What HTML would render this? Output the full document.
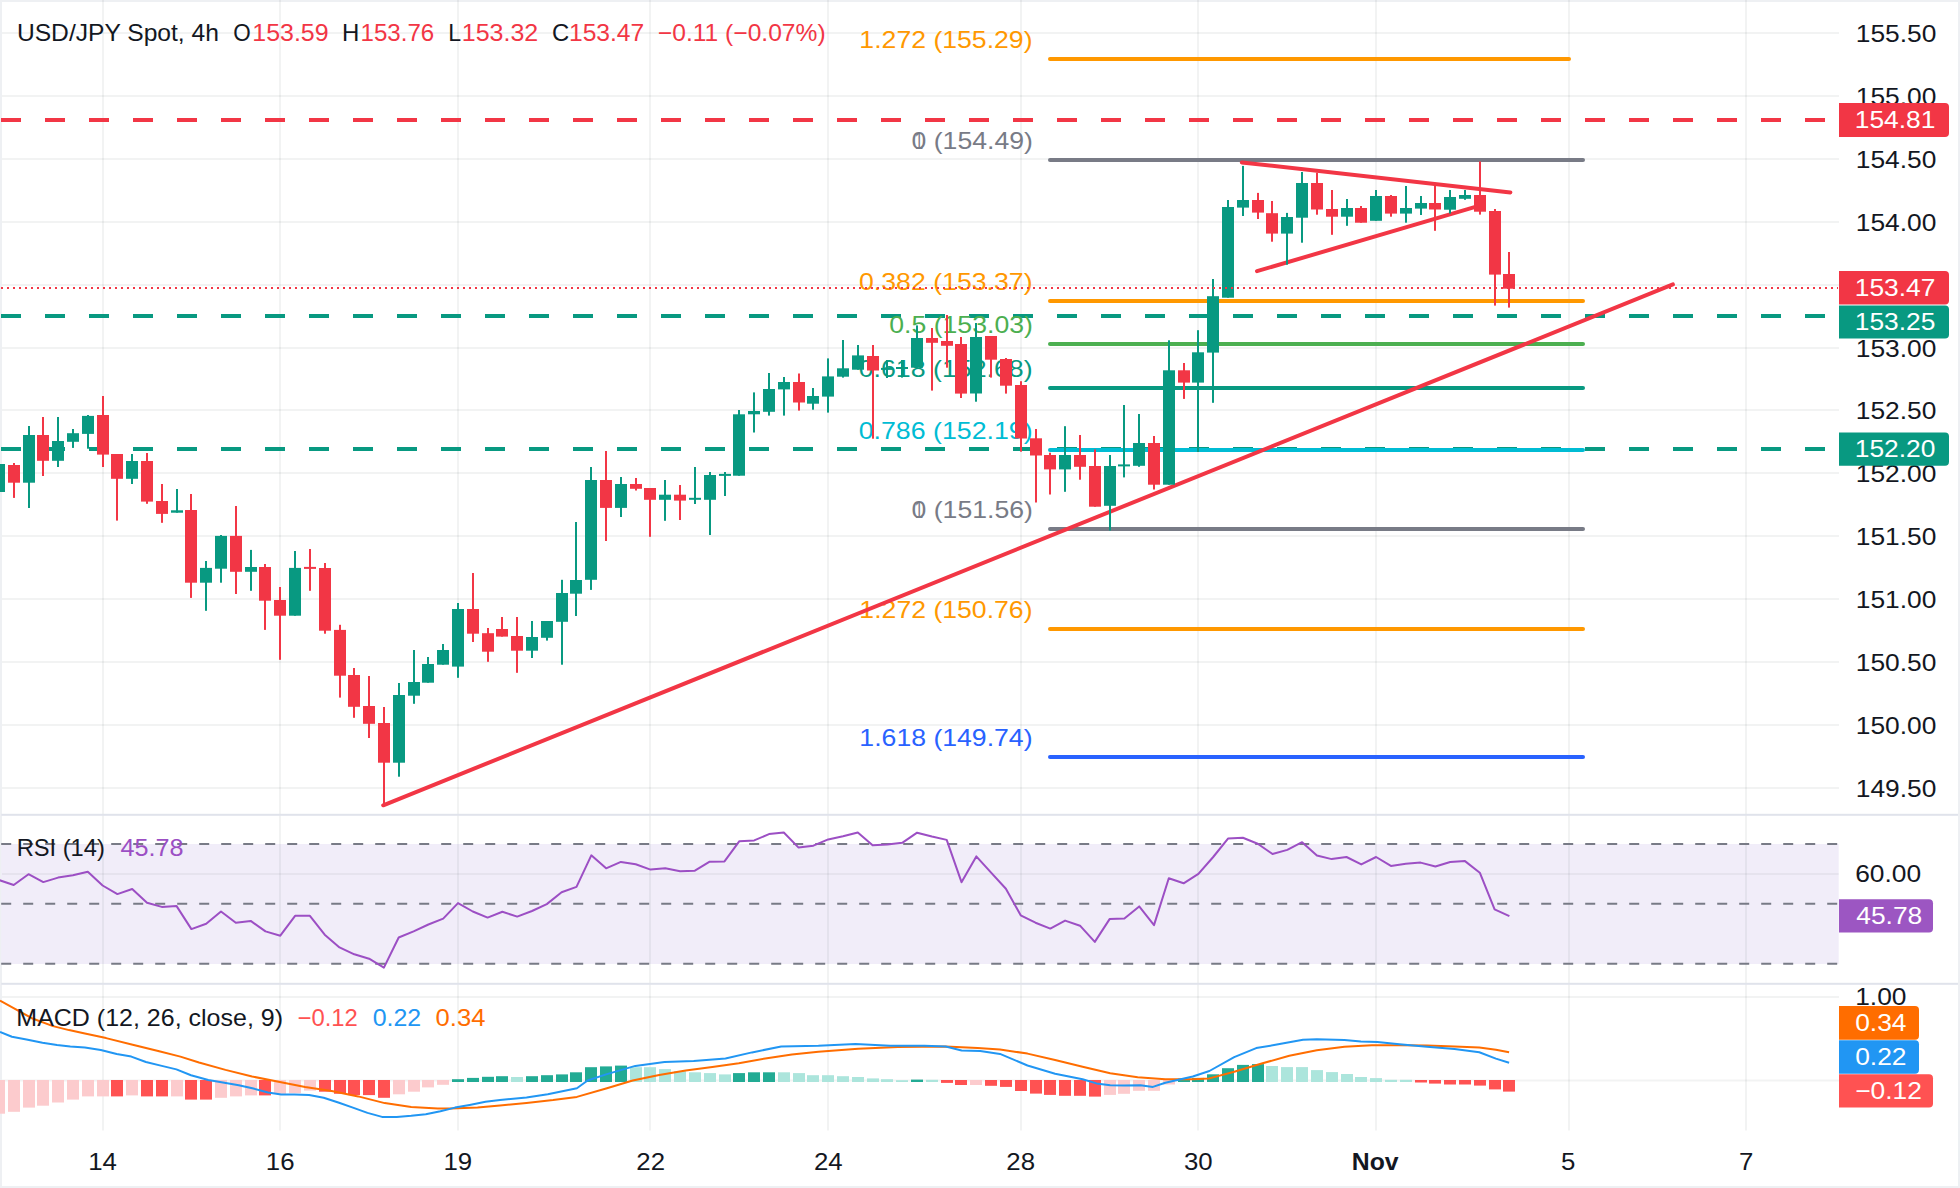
<!DOCTYPE html>
<html><head><meta charset="utf-8"><title>USD/JPY chart</title>
<style>html,body{margin:0;padding:0;background:#fff;overflow:hidden;}svg{display:block;font-family:"Liberation Sans",sans-serif;}</style></head>
<body>
<svg width="1960" height="1188" viewBox="0 0 1960 1188" font-family='"Liberation Sans", sans-serif'>
<rect x="0" y="0" width="1960" height="1188" fill="#ffffff"/>
<rect x="0" y="0" width="1960" height="2" fill="#eef0f3"/>
<rect x="0" y="0" width="2" height="1188" fill="#eef0f3"/>
<rect x="1958" y="0" width="2" height="1188" fill="#eef0f3"/>
<rect x="0" y="1186" width="1960" height="2" fill="#eef0f3"/>
<g fill="#2a2e39" fill-opacity="0.06">
<rect x="2" y="32" width="1837" height="2"/>
<rect x="2" y="95" width="1837" height="2"/>
<rect x="2" y="158" width="1837" height="2"/>
<rect x="2" y="221" width="1837" height="2"/>
<rect x="2" y="284" width="1837" height="2"/>
<rect x="2" y="347" width="1837" height="2"/>
<rect x="2" y="409" width="1837" height="2"/>
<rect x="2" y="472" width="1837" height="2"/>
<rect x="2" y="535" width="1837" height="2"/>
<rect x="2" y="598" width="1837" height="2"/>
<rect x="2" y="661" width="1837" height="2"/>
<rect x="2" y="724" width="1837" height="2"/>
<rect x="2" y="787" width="1837" height="2"/>
<rect x="2" y="996" width="1837" height="2"/>
<rect x="2" y="1079.5" width="1837" height="2"/>
</g>
<rect x="1.3" y="844" width="1837.4" height="120" fill="#f1edf9"/>
<rect x="2" y="873" width="1836.5" height="2" fill="#e6e3ee"/>
<g fill="#2a2e39" fill-opacity="0.06">
<rect x="102" y="0" width="2" height="1130.5"/>
<rect x="279" y="0" width="2" height="1130.5"/>
<rect x="457" y="0" width="2" height="1130.5"/>
<rect x="649" y="0" width="2" height="1130.5"/>
<rect x="827" y="0" width="2" height="1130.5"/>
<rect x="1020" y="0" width="2" height="1130.5"/>
<rect x="1197" y="0" width="2" height="1130.5"/>
<rect x="1375" y="0" width="2" height="1130.5"/>
<rect x="1568" y="0" width="2" height="1130.5"/>
<rect x="1745" y="0" width="2" height="1130.5"/>
</g>
<line x1="1" y1="120" x2="1838" y2="120" stroke="#f23645" stroke-width="4" stroke-dasharray="20 24"/>
<line x1="1" y1="316" x2="1838" y2="316" stroke="#089981" stroke-width="4" stroke-dasharray="20 24"/>
<line x1="1" y1="449" x2="1838" y2="449" stroke="#089981" stroke-width="4" stroke-dasharray="20 24"/>
<line x1="1050" y1="59" x2="1569" y2="59" stroke="#ff9800" stroke-width="4" stroke-linecap="round"/>
<line x1="1050" y1="160" x2="1583" y2="160" stroke="#787b86" stroke-width="4" stroke-linecap="round"/>
<line x1="1050" y1="301" x2="1583" y2="301" stroke="#ff9800" stroke-width="4" stroke-linecap="round"/>
<line x1="1050" y1="344" x2="1583" y2="344" stroke="#4caf50" stroke-width="4" stroke-linecap="round"/>
<line x1="1050" y1="388" x2="1583" y2="388" stroke="#089981" stroke-width="4" stroke-linecap="round"/>
<line x1="1050" y1="450" x2="1583" y2="450" stroke="#00bcd4" stroke-width="4" stroke-linecap="round"/>
<line x1="1050" y1="529" x2="1583" y2="529" stroke="#787b86" stroke-width="4" stroke-linecap="round"/>
<line x1="1050" y1="629" x2="1583" y2="629" stroke="#ff9800" stroke-width="4" stroke-linecap="round"/>
<line x1="1050" y1="757" x2="1583" y2="757" stroke="#2962ff" stroke-width="4" stroke-linecap="round"/>
<text x="859.38" y="48.3" font-size="24" fill="#ff9800" textLength="173.17" lengthAdjust="spacingAndGlyphs">1.272 (155.29)</text>
<text x="911.59" y="149.3" font-size="24" fill="#787b86" textLength="121.27" lengthAdjust="spacingAndGlyphs">0 (154.49)</text>
<text x="914.64" y="149.3" font-size="24" fill="#787b86" textLength="8.42" lengthAdjust="spacingAndGlyphs">1</text>
<text x="858.99" y="290.3" font-size="24" fill="#ff9800" textLength="173.56" lengthAdjust="spacingAndGlyphs">0.382 (153.37)</text>
<text x="889.29" y="333.3" font-size="24" fill="#4caf50" textLength="143.59" lengthAdjust="spacingAndGlyphs">0.5 (153.03)</text>
<text x="858.69" y="377.3" font-size="24" fill="#089981" textLength="173.87" lengthAdjust="spacingAndGlyphs">0.618 (152.68)</text>
<text x="858.69" y="439.3" font-size="24" fill="#00bcd4" textLength="173.87" lengthAdjust="spacingAndGlyphs">0.786 (152.19)</text>
<text x="911.59" y="518.3" font-size="24" fill="#787b86" textLength="121.27" lengthAdjust="spacingAndGlyphs">0 (151.56)</text>
<text x="914.64" y="518.3" font-size="24" fill="#787b86" textLength="8.42" lengthAdjust="spacingAndGlyphs">1</text>
<text x="859.38" y="618.3" font-size="24" fill="#ff9800" textLength="173.17" lengthAdjust="spacingAndGlyphs">1.272 (150.76)</text>
<text x="859.38" y="746.3" font-size="24" fill="#2962ff" textLength="173.17" lengthAdjust="spacingAndGlyphs">1.618 (149.74)</text>
<line x1="383.2" y1="805.3" x2="1672.9" y2="284.4" stroke="#f23645" stroke-width="4" stroke-linecap="round"/>
<line x1="1241.8" y1="162.4" x2="1510.4" y2="192.4" stroke="#f23645" stroke-width="4" stroke-linecap="round"/>
<line x1="1257" y1="271.2" x2="1474.5" y2="207.2" stroke="#f23645" stroke-width="4" stroke-linecap="round"/>
<rect x="-2" y="455" width="2" height="45" fill="#089981"/>
<rect x="-7" y="464" width="12" height="28" fill="#089981"/>
<rect x="13" y="463" width="2" height="34.9" fill="#f23645"/>
<rect x="8" y="465" width="12" height="17.7" fill="#f23645"/>
<rect x="28" y="426" width="2" height="82" fill="#089981"/>
<rect x="23" y="435" width="12" height="47.7" fill="#089981"/>
<rect x="42" y="417" width="2" height="59" fill="#f23645"/>
<rect x="37" y="435" width="12" height="25.8" fill="#f23645"/>
<rect x="57" y="417" width="2" height="50" fill="#089981"/>
<rect x="52" y="441" width="12" height="19.8" fill="#089981"/>
<rect x="72" y="429" width="2" height="18.9" fill="#089981"/>
<rect x="67" y="433.2" width="12" height="8.6" fill="#089981"/>
<rect x="87" y="415" width="2" height="33.7" fill="#089981"/>
<rect x="82" y="415.9" width="12" height="18" fill="#089981"/>
<rect x="102" y="396" width="2" height="71" fill="#f23645"/>
<rect x="97" y="415" width="12" height="39.6" fill="#f23645"/>
<rect x="116" y="454" width="2" height="66.6" fill="#f23645"/>
<rect x="111" y="454" width="12" height="24.8" fill="#f23645"/>
<rect x="131" y="454" width="2" height="30" fill="#089981"/>
<rect x="126" y="461" width="12" height="17.8" fill="#089981"/>
<rect x="146" y="453" width="2" height="50.8" fill="#f23645"/>
<rect x="141" y="461" width="12" height="40.6" fill="#f23645"/>
<rect x="161" y="484" width="2" height="38.8" fill="#f23645"/>
<rect x="156" y="501" width="12" height="12.9" fill="#f23645"/>
<rect x="176" y="489" width="2" height="23.7" fill="#089981"/>
<rect x="171" y="510.3" width="12" height="2.4" fill="#089981"/>
<rect x="190" y="494" width="2" height="103.9" fill="#f23645"/>
<rect x="185" y="510" width="12" height="72.7" fill="#f23645"/>
<rect x="205" y="561" width="2" height="49.8" fill="#089981"/>
<rect x="200" y="567.9" width="12" height="14.8" fill="#089981"/>
<rect x="220" y="535" width="2" height="47.7" fill="#089981"/>
<rect x="215" y="535.9" width="12" height="32.8" fill="#089981"/>
<rect x="235" y="506" width="2" height="88" fill="#f23645"/>
<rect x="230" y="535.9" width="12" height="35.9" fill="#f23645"/>
<rect x="250" y="549.9" width="2" height="40.9" fill="#089981"/>
<rect x="245" y="567" width="12" height="4.8" fill="#089981"/>
<rect x="264" y="564" width="2" height="65.9" fill="#f23645"/>
<rect x="259" y="567" width="12" height="33.7" fill="#f23645"/>
<rect x="279" y="587" width="2" height="72.8" fill="#f23645"/>
<rect x="274" y="600" width="12" height="15.7" fill="#f23645"/>
<rect x="294" y="551" width="2" height="64.7" fill="#089981"/>
<rect x="289" y="567.9" width="12" height="47.8" fill="#089981"/>
<rect x="309" y="549" width="2" height="41.8" fill="#f23645"/>
<rect x="304" y="566.9" width="12" height="2" fill="#f23645"/>
<rect x="324" y="563" width="2" height="70.7" fill="#f23645"/>
<rect x="319" y="568" width="12" height="62.7" fill="#f23645"/>
<rect x="339" y="624.8" width="2" height="72.8" fill="#f23645"/>
<rect x="334" y="629.9" width="12" height="45.8" fill="#f23645"/>
<rect x="353" y="668" width="2" height="49.8" fill="#f23645"/>
<rect x="348" y="675" width="12" height="31.8" fill="#f23645"/>
<rect x="368" y="676" width="2" height="62" fill="#f23645"/>
<rect x="363" y="706" width="12" height="17.8" fill="#f23645"/>
<rect x="383" y="707" width="2" height="98.3" fill="#f23645"/>
<rect x="378" y="723" width="12" height="39.7" fill="#f23645"/>
<rect x="398" y="683" width="2" height="93.7" fill="#089981"/>
<rect x="393" y="695" width="12" height="67.7" fill="#089981"/>
<rect x="413" y="650" width="2" height="53.8" fill="#089981"/>
<rect x="408" y="682" width="12" height="13.7" fill="#089981"/>
<rect x="427" y="657" width="2" height="25.7" fill="#089981"/>
<rect x="422" y="664" width="12" height="18.7" fill="#089981"/>
<rect x="442" y="644" width="2" height="20.7" fill="#089981"/>
<rect x="437" y="650" width="12" height="14.7" fill="#089981"/>
<rect x="457" y="603" width="2" height="74.8" fill="#089981"/>
<rect x="452" y="609" width="12" height="57.6" fill="#089981"/>
<rect x="472" y="573" width="2" height="69" fill="#f23645"/>
<rect x="467" y="609" width="12" height="24.7" fill="#f23645"/>
<rect x="487" y="628" width="2" height="33.8" fill="#f23645"/>
<rect x="482" y="633.2" width="12" height="18.5" fill="#f23645"/>
<rect x="501" y="617" width="2" height="19.6" fill="#f23645"/>
<rect x="496" y="629" width="12" height="7.6" fill="#f23645"/>
<rect x="516" y="617" width="2" height="55.8" fill="#f23645"/>
<rect x="511" y="636" width="12" height="14.7" fill="#f23645"/>
<rect x="531" y="621" width="2" height="37" fill="#089981"/>
<rect x="526" y="637" width="12" height="13.7" fill="#089981"/>
<rect x="546" y="621" width="2" height="19.6" fill="#089981"/>
<rect x="541" y="621" width="12" height="16.8" fill="#089981"/>
<rect x="561" y="579.8" width="2" height="84.9" fill="#089981"/>
<rect x="556" y="593" width="12" height="28.8" fill="#089981"/>
<rect x="575" y="522" width="2" height="94" fill="#089981"/>
<rect x="570" y="580" width="12" height="13.7" fill="#089981"/>
<rect x="590" y="467" width="2" height="122.9" fill="#089981"/>
<rect x="585" y="480" width="12" height="99.8" fill="#089981"/>
<rect x="605" y="451" width="2" height="90" fill="#f23645"/>
<rect x="600" y="480" width="12" height="27.9" fill="#f23645"/>
<rect x="620" y="477" width="2" height="40" fill="#089981"/>
<rect x="615" y="484" width="12" height="23.9" fill="#089981"/>
<rect x="635" y="478" width="2" height="12.5" fill="#f23645"/>
<rect x="630" y="484" width="12" height="4.8" fill="#f23645"/>
<rect x="649" y="488" width="2" height="48.8" fill="#f23645"/>
<rect x="644" y="488" width="12" height="11.8" fill="#f23645"/>
<rect x="664" y="480" width="2" height="40.8" fill="#089981"/>
<rect x="659" y="494.7" width="12" height="5.1" fill="#089981"/>
<rect x="679" y="485" width="2" height="35" fill="#f23645"/>
<rect x="674" y="494.7" width="12" height="5.9" fill="#f23645"/>
<rect x="694" y="467" width="2" height="37" fill="#089981"/>
<rect x="689" y="497.8" width="12" height="2" fill="#089981"/>
<rect x="709" y="472" width="2" height="63" fill="#089981"/>
<rect x="704" y="475" width="12" height="24.8" fill="#089981"/>
<rect x="724" y="472" width="2" height="24" fill="#089981"/>
<rect x="719" y="473.9" width="12" height="2" fill="#089981"/>
<rect x="738" y="410" width="2" height="65.7" fill="#089981"/>
<rect x="733" y="414.3" width="12" height="61.4" fill="#089981"/>
<rect x="753" y="392.4" width="2" height="40.1" fill="#089981"/>
<rect x="748" y="411" width="12" height="3.3" fill="#089981"/>
<rect x="768" y="373" width="2" height="42.6" fill="#089981"/>
<rect x="763" y="389" width="12" height="22.8" fill="#089981"/>
<rect x="783" y="377" width="2" height="38.6" fill="#089981"/>
<rect x="778" y="382" width="12" height="7.4" fill="#089981"/>
<rect x="798" y="373.5" width="2" height="37.1" fill="#f23645"/>
<rect x="793" y="382" width="12" height="20.5" fill="#f23645"/>
<rect x="812" y="388" width="2" height="21.7" fill="#089981"/>
<rect x="807" y="396" width="12" height="7.7" fill="#089981"/>
<rect x="827" y="358.4" width="2" height="54.2" fill="#089981"/>
<rect x="822" y="376.4" width="12" height="20.2" fill="#089981"/>
<rect x="842" y="340" width="2" height="37.6" fill="#089981"/>
<rect x="837" y="368.3" width="12" height="8.4" fill="#089981"/>
<rect x="857" y="345" width="2" height="24.7" fill="#089981"/>
<rect x="852" y="355.4" width="12" height="14.3" fill="#089981"/>
<rect x="872" y="345" width="2" height="93.7" fill="#f23645"/>
<rect x="867" y="356" width="12" height="14.5" fill="#f23645"/>
<rect x="886" y="360" width="2" height="18" fill="#089981"/>
<rect x="881" y="367.9" width="12" height="2" fill="#089981"/>
<rect x="901" y="360" width="2" height="17.6" fill="#089981"/>
<rect x="896" y="367" width="12" height="2" fill="#089981"/>
<rect x="916" y="325.4" width="2" height="42.3" fill="#089981"/>
<rect x="911" y="338" width="12" height="29.7" fill="#089981"/>
<rect x="931" y="328" width="2" height="62.6" fill="#f23645"/>
<rect x="926" y="338" width="12" height="4.8" fill="#f23645"/>
<rect x="946" y="315" width="2" height="52.7" fill="#f23645"/>
<rect x="941" y="341" width="12" height="4.8" fill="#f23645"/>
<rect x="960" y="337" width="2" height="61" fill="#f23645"/>
<rect x="955" y="344" width="12" height="49.6" fill="#f23645"/>
<rect x="975" y="323" width="2" height="78.7" fill="#089981"/>
<rect x="970" y="337" width="12" height="56.5" fill="#089981"/>
<rect x="990" y="336" width="2" height="41.6" fill="#f23645"/>
<rect x="985" y="336" width="12" height="23.7" fill="#f23645"/>
<rect x="1005" y="358" width="2" height="35.6" fill="#f23645"/>
<rect x="1000" y="359" width="12" height="26.7" fill="#f23645"/>
<rect x="1020" y="381.2" width="2" height="70.5" fill="#f23645"/>
<rect x="1015" y="385" width="12" height="53.5" fill="#f23645"/>
<rect x="1035" y="429" width="2" height="73.5" fill="#f23645"/>
<rect x="1030" y="438.3" width="12" height="17.2" fill="#f23645"/>
<rect x="1049" y="452.7" width="2" height="41.8" fill="#f23645"/>
<rect x="1044" y="455" width="12" height="14.4" fill="#f23645"/>
<rect x="1064" y="426.2" width="2" height="65.6" fill="#089981"/>
<rect x="1059" y="455" width="12" height="14.4" fill="#089981"/>
<rect x="1079" y="435" width="2" height="44.7" fill="#f23645"/>
<rect x="1074" y="455" width="12" height="11.8" fill="#f23645"/>
<rect x="1094" y="449.4" width="2" height="57.3" fill="#f23645"/>
<rect x="1089" y="466" width="12" height="40.7" fill="#f23645"/>
<rect x="1109" y="455" width="2" height="75.5" fill="#089981"/>
<rect x="1104" y="466" width="12" height="39.8" fill="#089981"/>
<rect x="1123" y="405" width="2" height="72.4" fill="#089981"/>
<rect x="1118" y="464.4" width="12" height="2" fill="#089981"/>
<rect x="1138" y="414" width="2" height="52.8" fill="#089981"/>
<rect x="1133" y="443" width="12" height="22.8" fill="#089981"/>
<rect x="1153" y="436" width="2" height="53.5" fill="#f23645"/>
<rect x="1148" y="443" width="12" height="41.7" fill="#f23645"/>
<rect x="1168" y="340.3" width="2" height="144.4" fill="#089981"/>
<rect x="1163" y="370.3" width="12" height="114.4" fill="#089981"/>
<rect x="1183" y="363" width="2" height="35.9" fill="#f23645"/>
<rect x="1178" y="370.3" width="12" height="12.3" fill="#f23645"/>
<rect x="1197" y="330.2" width="2" height="121.8" fill="#089981"/>
<rect x="1192" y="352.3" width="12" height="30.3" fill="#089981"/>
<rect x="1212" y="279" width="2" height="123.8" fill="#089981"/>
<rect x="1207" y="296.2" width="12" height="56.4" fill="#089981"/>
<rect x="1227" y="200" width="2" height="97.7" fill="#089981"/>
<rect x="1222" y="207" width="12" height="90.7" fill="#089981"/>
<rect x="1242" y="165.9" width="2" height="50.1" fill="#089981"/>
<rect x="1237" y="200" width="12" height="7.6" fill="#089981"/>
<rect x="1257" y="192.9" width="2" height="26.1" fill="#f23645"/>
<rect x="1252" y="200" width="12" height="12.6" fill="#f23645"/>
<rect x="1271" y="201" width="2" height="40.7" fill="#f23645"/>
<rect x="1266" y="213.2" width="12" height="20.4" fill="#f23645"/>
<rect x="1286" y="212.9" width="2" height="51.8" fill="#089981"/>
<rect x="1281" y="217" width="12" height="16.6" fill="#089981"/>
<rect x="1301" y="172" width="2" height="70.7" fill="#089981"/>
<rect x="1296" y="183" width="12" height="34.7" fill="#089981"/>
<rect x="1316" y="172.7" width="2" height="42" fill="#f23645"/>
<rect x="1311" y="183" width="12" height="26.5" fill="#f23645"/>
<rect x="1331" y="190" width="2" height="44.8" fill="#f23645"/>
<rect x="1326" y="209" width="12" height="7.7" fill="#f23645"/>
<rect x="1346" y="199" width="2" height="26.8" fill="#089981"/>
<rect x="1341" y="208" width="12" height="8.7" fill="#089981"/>
<rect x="1360" y="206" width="2" height="16.7" fill="#f23645"/>
<rect x="1355" y="208" width="12" height="14.7" fill="#f23645"/>
<rect x="1375" y="190" width="2" height="30.8" fill="#089981"/>
<rect x="1370" y="196" width="12" height="24.8" fill="#089981"/>
<rect x="1390" y="195" width="2" height="21.7" fill="#f23645"/>
<rect x="1385" y="196" width="12" height="17.6" fill="#f23645"/>
<rect x="1405" y="186" width="2" height="36.7" fill="#089981"/>
<rect x="1400" y="208" width="12" height="5.6" fill="#089981"/>
<rect x="1420" y="196" width="2" height="19" fill="#089981"/>
<rect x="1415" y="203" width="12" height="5.6" fill="#089981"/>
<rect x="1434" y="185.3" width="2" height="45.5" fill="#f23645"/>
<rect x="1429" y="203" width="12" height="6.5" fill="#f23645"/>
<rect x="1449" y="190" width="2" height="23.6" fill="#089981"/>
<rect x="1444" y="197" width="12" height="12.7" fill="#089981"/>
<rect x="1464" y="190" width="2" height="9.8" fill="#089981"/>
<rect x="1459" y="195" width="12" height="3.8" fill="#089981"/>
<rect x="1479" y="161.4" width="2" height="53.2" fill="#f23645"/>
<rect x="1474" y="195" width="12" height="16.7" fill="#f23645"/>
<rect x="1494" y="209" width="2" height="96.6" fill="#f23645"/>
<rect x="1489" y="211" width="12" height="63.6" fill="#f23645"/>
<rect x="1508" y="252" width="2" height="55.6" fill="#f23645"/>
<rect x="1503" y="274" width="12" height="14.7" fill="#f23645"/>
<line x1="1" y1="288" x2="1838" y2="288" stroke="#f23645" stroke-width="2" stroke-dasharray="2 4"/>
<line x1="1.2" y1="843.9" x2="1838" y2="843.9" stroke="#787b86" stroke-width="2" stroke-dasharray="10 12"/>
<line x1="1.2" y1="903.8" x2="1838" y2="903.8" stroke="#787b86" stroke-width="2" stroke-dasharray="10 12"/>
<line x1="1.2" y1="963.8" x2="1838" y2="963.8" stroke="#787b86" stroke-width="2" stroke-dasharray="10 12"/>
<polyline points="-1.1,880 13.7,885 28.5,874.2 43.3,882.1 58.1,877.6 72.9,875.3 87.8,871.7 102.6,885.5 117.4,894.1 132.2,889 147,902.8 161.8,906.9 176.6,906.1 191.4,929.1 206.2,923.7 221,911.5 235.8,922.7 250.7,920.9 265.5,931.4 280.3,935.7 295.1,915.8 309.9,915.8 324.7,934.7 339.5,947.4 354.3,954.3 369.1,958.7 383.9,967.6 398.7,937.5 413.6,931.4 428.4,924.5 443.2,918.6 458,903.1 472.8,911.5 487.6,917.6 502.4,911.8 517.2,916.6 532,911 546.8,904.1 561.6,892.2 576.5,886.9 591.3,855.3 606.1,868.3 620.9,861.9 635.7,864.3 650.5,869.6 665.3,868.3 680.1,871.2 694.9,870.7 709.7,861.7 724.5,861.4 739.4,841.2 754.2,840.4 769,834.1 783.8,832.5 798.6,847.6 813.4,845.7 828.2,839.4 843,836.2 857.8,832.5 872.6,845.2 887.4,844.4 902.2,842.8 917.1,832.7 931.9,836.5 946.7,839.9 961.5,882.2 976.3,856.4 991.1,872.7 1005.9,888.7 1020.7,915.3 1035.5,922.7 1050.3,928.6 1065.1,920.6 1080,925.7 1094.8,941.9 1109.6,919.1 1124.4,918.5 1139.2,906.4 1154,925.1 1168.8,878.3 1183.6,883.3 1198.4,873.9 1213.2,857 1228,838.6 1242.9,837.8 1257.7,843.7 1272.5,854 1287.3,849.9 1302.1,842.2 1316.9,855.5 1331.7,859.1 1346.5,857 1361.3,864.4 1376.1,857 1390.9,865.9 1405.8,863.8 1420.6,862.6 1435.4,866.5 1450.2,862 1465,861.1 1479.8,872.7 1494.6,909.4 1509.4,916.2" fill="none" stroke="#9c4fc4" stroke-width="2" stroke-linejoin="round"/>
<rect x="-7" y="1080" width="12" height="33.7" fill="#fccbcd"/>
<rect x="8" y="1080" width="12" height="31.8" fill="#fccbcd"/>
<rect x="23" y="1080" width="12" height="27.6" fill="#fccbcd"/>
<rect x="37" y="1080" width="12" height="25.7" fill="#fccbcd"/>
<rect x="52" y="1080" width="12" height="22.5" fill="#fccbcd"/>
<rect x="67" y="1080" width="12" height="19.6" fill="#fccbcd"/>
<rect x="82" y="1080" width="12" height="16.4" fill="#fccbcd"/>
<rect x="97" y="1080" width="12" height="16.4" fill="#fccbcd"/>
<rect x="111" y="1080" width="12" height="16.4" fill="#ff5252"/>
<rect x="126" y="1080" width="12" height="15.4" fill="#fccbcd"/>
<rect x="141" y="1080" width="12" height="16.4" fill="#ff5252"/>
<rect x="156" y="1080" width="12" height="16.4" fill="#ff5252"/>
<rect x="171" y="1080" width="12" height="16.4" fill="#fccbcd"/>
<rect x="185" y="1080" width="12" height="19.6" fill="#ff5252"/>
<rect x="200" y="1080" width="12" height="19.6" fill="#ff5252"/>
<rect x="215" y="1080" width="12" height="17.8" fill="#fccbcd"/>
<rect x="230" y="1080" width="12" height="16.4" fill="#fccbcd"/>
<rect x="245" y="1080" width="12" height="15.4" fill="#fccbcd"/>
<rect x="259" y="1080" width="12" height="15.4" fill="#ff5252"/>
<rect x="274" y="1080" width="12" height="13.8" fill="#fccbcd"/>
<rect x="289" y="1080" width="12" height="13.2" fill="#fccbcd"/>
<rect x="304" y="1080" width="12" height="10.6" fill="#fccbcd"/>
<rect x="319" y="1080" width="12" height="11.7" fill="#ff5252"/>
<rect x="334" y="1080" width="12" height="13.8" fill="#ff5252"/>
<rect x="348" y="1080" width="12" height="15.1" fill="#ff5252"/>
<rect x="363" y="1080" width="12" height="15.1" fill="#ff5252"/>
<rect x="378" y="1080" width="12" height="17.8" fill="#ff5252"/>
<rect x="393" y="1080" width="12" height="14.3" fill="#fccbcd"/>
<rect x="408" y="1080" width="12" height="11.7" fill="#fccbcd"/>
<rect x="422" y="1080" width="12" height="7.4" fill="#fccbcd"/>
<rect x="437" y="1080" width="12" height="4.8" fill="#fccbcd"/>
<rect x="452" y="1079.2" width="12" height="2.8" fill="#22ab94"/>
<rect x="467" y="1077.9" width="12" height="4.1" fill="#22ab94"/>
<rect x="482" y="1076.8" width="12" height="5.2" fill="#22ab94"/>
<rect x="496" y="1076.2" width="12" height="5.8" fill="#22ab94"/>
<rect x="511" y="1077" width="12" height="5" fill="#ace5dc"/>
<rect x="526" y="1076.2" width="12" height="5.8" fill="#22ab94"/>
<rect x="541" y="1075.2" width="12" height="6.8" fill="#22ab94"/>
<rect x="556" y="1074.4" width="12" height="7.6" fill="#22ab94"/>
<rect x="570" y="1072.3" width="12" height="9.7" fill="#22ab94"/>
<rect x="585" y="1067.2" width="12" height="14.8" fill="#22ab94"/>
<rect x="600" y="1066.4" width="12" height="15.6" fill="#22ab94"/>
<rect x="615" y="1065.6" width="12" height="16.4" fill="#22ab94"/>
<rect x="630" y="1067.2" width="12" height="14.8" fill="#ace5dc"/>
<rect x="644" y="1067.2" width="12" height="14.8" fill="#ace5dc"/>
<rect x="659" y="1069.1" width="12" height="12.9" fill="#ace5dc"/>
<rect x="674" y="1071.2" width="12" height="10.8" fill="#ace5dc"/>
<rect x="689" y="1072.3" width="12" height="9.7" fill="#ace5dc"/>
<rect x="704" y="1073.1" width="12" height="8.9" fill="#ace5dc"/>
<rect x="719" y="1074.4" width="12" height="7.6" fill="#ace5dc"/>
<rect x="733" y="1073.1" width="12" height="8.9" fill="#22ab94"/>
<rect x="748" y="1072.3" width="12" height="9.7" fill="#22ab94"/>
<rect x="763" y="1072.3" width="12" height="9.7" fill="#22ab94"/>
<rect x="778" y="1072.3" width="12" height="9.7" fill="#ace5dc"/>
<rect x="793" y="1073.1" width="12" height="8.9" fill="#ace5dc"/>
<rect x="807" y="1075.2" width="12" height="6.8" fill="#ace5dc"/>
<rect x="822" y="1075.2" width="12" height="6.8" fill="#ace5dc"/>
<rect x="837" y="1076.2" width="12" height="5.8" fill="#ace5dc"/>
<rect x="852" y="1077" width="12" height="5" fill="#ace5dc"/>
<rect x="867" y="1078.4" width="12" height="3.6" fill="#ace5dc"/>
<rect x="881" y="1079.2" width="12" height="2.8" fill="#ace5dc"/>
<rect x="896" y="1080.2" width="12" height="1.8" fill="#ace5dc"/>
<rect x="911" y="1079.6" width="12" height="2.4" fill="#22ab94"/>
<rect x="926" y="1079.8" width="12" height="2.2" fill="#ace5dc"/>
<rect x="941" y="1080" width="12" height="2.9" fill="#ff5252"/>
<rect x="955" y="1080" width="12" height="5" fill="#ff5252"/>
<rect x="970" y="1080" width="12" height="5" fill="#fccbcd"/>
<rect x="985" y="1080" width="12" height="5.8" fill="#ff5252"/>
<rect x="1000" y="1080" width="12" height="6.9" fill="#ff5252"/>
<rect x="1015" y="1080" width="12" height="11" fill="#ff5252"/>
<rect x="1030" y="1080" width="12" height="13.6" fill="#ff5252"/>
<rect x="1044" y="1080" width="12" height="14.9" fill="#ff5252"/>
<rect x="1059" y="1080" width="12" height="15.8" fill="#ff5252"/>
<rect x="1074" y="1080" width="12" height="15.8" fill="#ff5252"/>
<rect x="1089" y="1080" width="12" height="16.6" fill="#ff5252"/>
<rect x="1104" y="1080" width="12" height="14.9" fill="#fccbcd"/>
<rect x="1118" y="1080" width="12" height="13.8" fill="#fccbcd"/>
<rect x="1133" y="1080" width="12" height="10.8" fill="#fccbcd"/>
<rect x="1148" y="1080" width="12" height="10.8" fill="#fccbcd"/>
<rect x="1163" y="1080" width="12" height="4.5" fill="#fccbcd"/>
<rect x="1178" y="1078.7" width="12" height="3.3" fill="#22ab94"/>
<rect x="1192" y="1077.9" width="12" height="4.1" fill="#22ab94"/>
<rect x="1207" y="1074.3" width="12" height="7.7" fill="#22ab94"/>
<rect x="1222" y="1068.2" width="12" height="13.8" fill="#22ab94"/>
<rect x="1237" y="1064.9" width="12" height="17.1" fill="#22ab94"/>
<rect x="1252" y="1064.1" width="12" height="17.9" fill="#22ab94"/>
<rect x="1266" y="1066" width="12" height="16" fill="#ace5dc"/>
<rect x="1281" y="1067.1" width="12" height="14.9" fill="#ace5dc"/>
<rect x="1296" y="1067.1" width="12" height="14.9" fill="#ace5dc"/>
<rect x="1311" y="1070.1" width="12" height="11.9" fill="#ace5dc"/>
<rect x="1326" y="1072.1" width="12" height="9.9" fill="#ace5dc"/>
<rect x="1341" y="1074" width="12" height="8" fill="#ace5dc"/>
<rect x="1355" y="1077" width="12" height="5" fill="#ace5dc"/>
<rect x="1370" y="1078.1" width="12" height="3.9" fill="#ace5dc"/>
<rect x="1385" y="1079.8" width="12" height="2.2" fill="#ace5dc"/>
<rect x="1400" y="1079.8" width="12" height="2.2" fill="#ace5dc"/>
<rect x="1415" y="1080" width="12" height="2.5" fill="#ff5252"/>
<rect x="1429" y="1080" width="12" height="3.6" fill="#ff5252"/>
<rect x="1444" y="1080" width="12" height="4.5" fill="#ff5252"/>
<rect x="1459" y="1080" width="12" height="4.5" fill="#ff5252"/>
<rect x="1474" y="1080" width="12" height="5.6" fill="#ff5252"/>
<rect x="1489" y="1080" width="12" height="9.4" fill="#ff5252"/>
<rect x="1503" y="1080" width="12" height="11.6" fill="#ff5252"/>
<polyline points="0,1000.5 15.9,1009.4 31.8,1018.2 53,1026.1 69,1030.1 84.9,1033.6 106.1,1038.1 132.7,1044.7 159.2,1051.3 180.4,1056.6 199,1062.5 225.5,1069.9 252.1,1076.5 278.6,1081.8 305.1,1087.1 331.7,1091.1 358.2,1096.4 384.7,1103.1 411.2,1107 437.8,1108.4 451,1108.6 477.6,1107.6 500,1105.4 526.5,1103 553.1,1100.1 576.9,1096.9 606.1,1088.5 632.7,1080.5 659.2,1074.9 685.7,1070.4 712.3,1067 738.8,1063.2 765.3,1058.5 791.9,1054.5 818.4,1051.8 858.2,1048.7 898,1047.1 945.7,1046.5 977.6,1047.9 1000,1049.5 1027.5,1053.6 1055.1,1060 1082.6,1066.8 1110.2,1073.2 1137.7,1077.3 1165.3,1079.2 1192.8,1079.2 1209.4,1078.4 1234.2,1071.8 1261.7,1063.5 1289.3,1055.8 1316.8,1050.3 1344.4,1046.7 1371.9,1045.3 1399.4,1045.3 1427,1045.6 1454.5,1046.4 1479.3,1047.5 1495.9,1049.8 1509.1,1052.2" fill="none" stroke="#ff6d00" stroke-width="2" stroke-linejoin="round"/>
<polyline points="0,1032 11.9,1036.7 26.5,1039.4 42.5,1042.8 57,1045 70.3,1046.6 84.9,1047.6 100.8,1050 116.7,1054 131.3,1056.6 145.9,1062 161.8,1065.9 176.4,1069.4 191,1075.2 208.3,1080 222.9,1082.6 238.8,1085.3 253.4,1088.5 268,1092.5 281.2,1094.6 294.5,1094.6 309.1,1095.1 323.7,1097.8 338.3,1102.5 352.9,1107.6 367.5,1112.9 382,1116.9 396.7,1116.9 411.2,1115.8 425.8,1114.2 440.4,1111.3 455,1107.6 469.6,1104.9 485.5,1101.7 500,1100.1 526.5,1097.5 547.8,1094.3 576.9,1088.2 587.6,1080.5 606.1,1074.4 635.3,1065.9 664.5,1061.9 693.7,1061.1 725.5,1058.5 752,1052.4 781.2,1046.5 818.4,1045.7 855.5,1043.9 890,1045.7 924.5,1045.7 945.7,1046.5 961.6,1050.5 980.2,1051 1000,1053.9 1027.5,1065.5 1055.1,1073.7 1082.6,1079.2 1096.4,1083.4 1110.2,1085.3 1124,1085.6 1140.5,1085.3 1152.9,1086.9 1165.3,1082.8 1192.8,1076.5 1209.4,1071 1234.2,1057.2 1256.2,1048.1 1275.5,1044.8 1303,1039.8 1316.8,1039.3 1344.4,1040.1 1360.9,1041.5 1377.4,1042 1399.4,1044.2 1427,1046.7 1454.5,1048.9 1479.3,1052.2 1495.9,1058.6 1509.1,1062.7" fill="none" stroke="#2196f3" stroke-width="2" stroke-linejoin="round"/>
<text x="16.95" y="41" font-size="24" fill="#131722" textLength="201.98" lengthAdjust="spacingAndGlyphs">USD/JPY Spot, 4h</text>
<text x="233.26" y="41" font-size="24" fill="#131722" textLength="17.46" lengthAdjust="spacingAndGlyphs">O</text>
<text x="252.32" y="41" font-size="24" fill="#f23645" textLength="76.24" lengthAdjust="spacingAndGlyphs">153.59</text>
<text x="341.90" y="41" font-size="24" fill="#131722" textLength="17.34" lengthAdjust="spacingAndGlyphs">H</text>
<text x="360.49" y="41" font-size="24" fill="#f23645" textLength="73.72" lengthAdjust="spacingAndGlyphs">153.76</text>
<text x="448.17" y="41" font-size="24" fill="#131722" textLength="12.87" lengthAdjust="spacingAndGlyphs">L</text>
<text x="461.82" y="41" font-size="24" fill="#f23645" textLength="76.45" lengthAdjust="spacingAndGlyphs">153.32</text>
<text x="551.91" y="41" font-size="24" fill="#131722" textLength="17.23" lengthAdjust="spacingAndGlyphs">C</text>
<text x="568.95" y="41" font-size="24" fill="#f23645" textLength="75.29" lengthAdjust="spacingAndGlyphs">153.47</text>
<text x="657.88" y="41" font-size="24" fill="#f23645" textLength="167.74" lengthAdjust="spacingAndGlyphs">−0.11 (−0.07%)</text>
<text x="16.73" y="856" font-size="24" fill="#131722" textLength="88.11" lengthAdjust="spacingAndGlyphs">RSI (14)</text>
<text x="120.40" y="856" font-size="24" fill="#9c4fc4" textLength="63.12" lengthAdjust="spacingAndGlyphs">45.78</text>
<text x="16.32" y="1025.5" font-size="24" fill="#131722" textLength="266.72" lengthAdjust="spacingAndGlyphs">MACD (12, 26, close, 9)</text>
<text x="297.51" y="1025.5" font-size="24" fill="#ff5252" textLength="60.32" lengthAdjust="spacingAndGlyphs">−0.12</text>
<text x="372.66" y="1025.5" font-size="24" fill="#2196f3" textLength="48.48" lengthAdjust="spacingAndGlyphs">0.22</text>
<text x="435.63" y="1025.5" font-size="24" fill="#ff6d00" textLength="49.83" lengthAdjust="spacingAndGlyphs">0.34</text>
<rect x="1839" y="2" width="119" height="1128" fill="#ffffff"/>
<rect x="1.3" y="813.8" width="1956.7" height="2" fill="#e0e3eb"/>
<rect x="1.3" y="982.8" width="1956.7" height="2" fill="#e0e3eb"/>
<text x="1855.80" y="41.6" font-size="24" fill="#131722" textLength="80.64" lengthAdjust="spacingAndGlyphs">155.50</text>
<text x="1855.80" y="104.6" font-size="24" fill="#131722" textLength="80.64" lengthAdjust="spacingAndGlyphs">155.00</text>
<text x="1855.80" y="167.6" font-size="24" fill="#131722" textLength="80.64" lengthAdjust="spacingAndGlyphs">154.50</text>
<text x="1855.80" y="230.6" font-size="24" fill="#131722" textLength="80.64" lengthAdjust="spacingAndGlyphs">154.00</text>
<text x="1855.80" y="356.6" font-size="24" fill="#131722" textLength="80.64" lengthAdjust="spacingAndGlyphs">153.00</text>
<text x="1855.80" y="419.1" font-size="24" fill="#131722" textLength="80.64" lengthAdjust="spacingAndGlyphs">152.50</text>
<text x="1855.80" y="482.1" font-size="24" fill="#131722" textLength="80.64" lengthAdjust="spacingAndGlyphs">152.00</text>
<text x="1855.80" y="544.6" font-size="24" fill="#131722" textLength="80.64" lengthAdjust="spacingAndGlyphs">151.50</text>
<text x="1855.80" y="607.6" font-size="24" fill="#131722" textLength="80.64" lengthAdjust="spacingAndGlyphs">151.00</text>
<text x="1855.80" y="670.6" font-size="24" fill="#131722" textLength="80.64" lengthAdjust="spacingAndGlyphs">150.50</text>
<text x="1855.80" y="733.6" font-size="24" fill="#131722" textLength="80.64" lengthAdjust="spacingAndGlyphs">150.00</text>
<text x="1855.80" y="796.6" font-size="24" fill="#131722" textLength="80.64" lengthAdjust="spacingAndGlyphs">149.50</text>
<text x="1855.20" y="881.8" font-size="24" fill="#131722" textLength="65.98" lengthAdjust="spacingAndGlyphs">60.00</text>
<text x="1855.20" y="1005.2" font-size="24" fill="#131722" textLength="51.33" lengthAdjust="spacingAndGlyphs">1.00</text>
<text x="88.15" y="1169.5" font-size="24" fill="#131722" textLength="28.71" lengthAdjust="spacingAndGlyphs">14</text>
<text x="265.85" y="1169.5" font-size="24" fill="#131722" textLength="28.71" lengthAdjust="spacingAndGlyphs">16</text>
<text x="443.45" y="1169.5" font-size="24" fill="#131722" textLength="28.71" lengthAdjust="spacingAndGlyphs">19</text>
<text x="636.39" y="1169.5" font-size="24" fill="#131722" textLength="28.71" lengthAdjust="spacingAndGlyphs">22</text>
<text x="813.99" y="1169.5" font-size="24" fill="#131722" textLength="28.71" lengthAdjust="spacingAndGlyphs">24</text>
<text x="1006.39" y="1169.5" font-size="24" fill="#131722" textLength="28.71" lengthAdjust="spacingAndGlyphs">28</text>
<text x="1183.99" y="1169.5" font-size="24" fill="#131722" textLength="28.71" lengthAdjust="spacingAndGlyphs">30</text>
<text x="1351.83" y="1169.5" font-size="24" font-weight="700" fill="#131722" textLength="46.82" lengthAdjust="spacingAndGlyphs">Nov</text>
<text x="1560.97" y="1169.5" font-size="24" fill="#131722" textLength="14.36" lengthAdjust="spacingAndGlyphs">5</text>
<text x="1739.11" y="1169.5" font-size="24" fill="#131722" textLength="14.36" lengthAdjust="spacingAndGlyphs">7</text>
<path d="M1839,103 H1945 Q1949,103 1949,107 V133 Q1949,137 1945,137 H1839 Z" fill="#f23645"/>
<path d="M1839,271 H1945 Q1949,271 1949,275 V300.5 Q1949,304.5 1945,304.5 H1839 Z" fill="#f23645"/>
<path d="M1839,305.5 H1945 Q1949,305.5 1949,309.5 V334.5 Q1949,338.5 1945,338.5 H1839 Z" fill="#089981"/>
<path d="M1839,432.5 H1945 Q1949,432.5 1949,436.5 V461.7 Q1949,465.7 1945,465.7 H1839 Z" fill="#089981"/>
<path d="M1839,899.2 H1929 Q1933,899.2 1933,903.2 V928.6 Q1933,932.6 1929,932.6 H1839 Z" fill="#9c56c2"/>
<path d="M1839,1006.1 H1915 Q1919,1006.1 1919,1010.1 V1035.7 Q1919,1039.7 1915,1039.7 H1839 Z" fill="#ff6d00"/>
<path d="M1839,1040.3 H1915 Q1919,1040.3 1919,1044.3 V1069.7 Q1919,1073.7 1915,1073.7 H1839 Z" fill="#2196f3"/>
<path d="M1839,1074.2 H1929 Q1933,1074.2 1933,1078.2 V1103.6 Q1933,1107.6 1929,1107.6 H1839 Z" fill="#ff5252"/>
<text x="1854.80" y="128.1" font-size="24" fill="#ffffff" textLength="80.64" lengthAdjust="spacingAndGlyphs">154.81</text>
<text x="1854.80" y="295.9" font-size="24" fill="#ffffff" textLength="80.64" lengthAdjust="spacingAndGlyphs">153.47</text>
<text x="1854.80" y="330.1" font-size="24" fill="#ffffff" textLength="80.64" lengthAdjust="spacingAndGlyphs">153.25</text>
<text x="1854.80" y="457.2" font-size="24" fill="#ffffff" textLength="80.64" lengthAdjust="spacingAndGlyphs">152.20</text>
<text x="1856.30" y="924.0" font-size="24" fill="#ffffff" textLength="65.98" lengthAdjust="spacingAndGlyphs">45.78</text>
<text x="1855.20" y="1031.0" font-size="24" fill="#ffffff" textLength="51.33" lengthAdjust="spacingAndGlyphs">0.34</text>
<text x="1855.20" y="1065.1" font-size="24" fill="#ffffff" textLength="51.33" lengthAdjust="spacingAndGlyphs">0.22</text>
<text x="1855.20" y="1099.0" font-size="24" fill="#ffffff" textLength="66.72" lengthAdjust="spacingAndGlyphs">−0.12</text>
</svg>
</body></html>
